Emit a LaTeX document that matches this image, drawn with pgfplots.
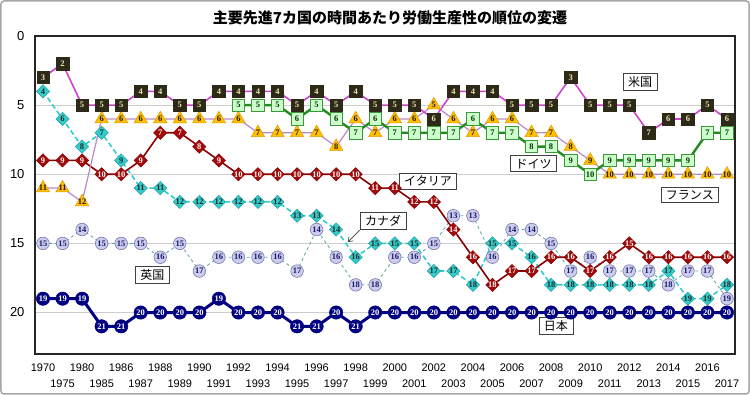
\documentclass[border=0pt]{standalone}
\usepackage{pgfplots}
\pgfplotsset{compat=1.18}
\usepackage{fontspec}
\setmainfont{Liberation Sans}
\newfontfamily\jp{Noto Sans CJK JP}
\newfontfamily\numf{Liberation Serif}
\usetikzlibrary{arrows.meta}
\definecolor{usfill}{HTML}{2E2A18}
\definecolor{usline}{HTML}{CC44CC}
\definecolor{ustext}{HTML}{EDE6B0}
\definecolor{defill}{HTML}{CCFFCC}
\definecolor{dedraw}{HTML}{3A9A3A}
\definecolor{deline}{HTML}{228B22}
\definecolor{frfill}{HTML}{FFC000}
\definecolor{frdraw}{HTML}{E09A00}
\definecolor{frline}{HTML}{BB88CC}
\definecolor{itfill}{HTML}{A00C0C}
\definecolor{itline}{HTML}{8B0000}
\definecolor{cafill}{HTML}{33CCCC}
\definecolor{cadraw}{HTML}{22A0A0}
\definecolor{caline}{HTML}{33CCCC}
\definecolor{ukfill}{HTML}{CCCCEE}
\definecolor{ukdraw}{HTML}{7777AA}
\definecolor{uktext}{HTML}{1A1A66}
\definecolor{ukline}{HTML}{66AAAA}
\definecolor{jpfill}{HTML}{000080}
\definecolor{jpline}{HTML}{000080}
\begin{document}
\begin{tikzpicture}
\useasboundingbox (-35pt,-41pt) rectangle (715pt,354pt);
\draw[gray!70, line width=1.5pt, rounded corners=3pt] (-34pt,-40pt) rectangle (714pt,353pt);
\begin{axis}[
  at={(0pt,0pt)}, anchor=south west,
  scale only axis, width=700pt, height=318pt,
  xmin=-0.41, xmax=35.41, ymin=0, ymax=23, y dir=reverse,
  axis line style={black!85, line width=1.2pt},
  ytick={0,5,10,15,20}, ymajorgrids, grid style={gray!40, line width=0.6pt},
  major tick length=0pt,
  xtick={0,2,...,34},
  xticklabels={1970,1980,1986,1988,1990,1992,1994,1996,1998,2000,2002,2004,2006,2008,2010,2012,2014,2016},
  extra x ticks={1,3,...,35},
  extra x tick labels={1975,1985,1987,1989,1991,1993,1995,1997,1999,2001,2003,2005,2007,2009,2011,2013,2015,2017},
  extra x tick style={xticklabel style={yshift=-16pt}, grid=none},
  xticklabel style={font=\fontsize{11}{13}\selectfont, yshift=-6pt},
  yticklabel style={font=\fontsize{13}{15}\selectfont, xshift=-7pt},
  /pgf/number format/assume math mode=true,
  clip=false,
  point meta=y,
  nodes near coords={\pgfmathprintnumber{\pgfplotspointmeta}},
  every node near coord/.append style={anchor=center, inner sep=0pt, font=\numf\bfseries\fontsize{8.5}{8.5}\selectfont},
]
% UK
\addplot[color=ukline, line width=0.9pt, dashed, mark=*, mark size=6.3pt,
  mark options={solid, fill=ukfill, draw=ukdraw, line width=0.6pt},
  every node near coord/.append style={text=uktext}] coordinates {
(0,15)(1,15)(2,14)(3,15)(4,15)(5,15)(6,16)(7,15)(8,17)(9,16)(10,16)(11,16)(12,16)(13,17)(14,14)(15,16)(16,18)(17,18)(18,16)(19,16)(20,15)(21,13)(22,13)(23,16)(24,14)(25,14)(26,15)(27,17)(28,16)(29,17)(30,17)(31,17)(32,18)(33,17)(34,17)(35,19)};
% Canada
\addplot[color=caline, line width=1.6pt, dash pattern=on 5pt off 3pt, mark=square*, mark size=4.7pt,
  mark options={solid, rotate=45, fill=cafill, draw=cadraw, line width=0.5pt},
  every node near coord/.append style={text=black!85}] coordinates {
(0,4)(1,6)(2,8)(3,7)(4,9)(5,11)(6,11)(7,12)(8,12)(9,12)(10,12)(11,12)(12,12)(13,13)(14,13)(15,14)(16,16)(17,15)(18,15)(19,15)(20,17)(21,17)(22,18)(23,15)(24,15)(25,16)(26,18)(27,18)(28,18)(29,18)(30,18)(31,18)(32,17)(33,19)(34,19)(35,18)};
% Italy
\addplot[color=itline, line width=1.6pt, mark=square*, mark size=4.7pt,
  mark options={solid, rotate=45, fill=itfill, draw=itline, line width=0.5pt},
  every node near coord/.append style={text=white!90!pink}] coordinates {
(0,9)(1,9)(2,9)(3,10)(4,10)(5,9)(6,7)(7,7)(8,8)(9,9)(10,10)(11,10)(12,10)(13,10)(14,10)(15,10)(16,10)(17,11)(18,11)(19,12)(20,12)(21,14)(22,16)(23,18)(24,17)(25,17)(26,16)(27,16)(28,17)(29,16)(30,15)(31,16)(32,16)(33,16)(34,16)(35,16)};
% France
\addplot[color=frline, line width=1.2pt, mark=triangle*, mark size=7.7pt,
  mark options={solid, fill=frfill, draw=frdraw, line width=0.5pt},
  every node near coord/.append style={text=black!80!brown}] coordinates {
(0,11)(1,11)(2,12)(3,6)(4,6)(5,6)(6,6)(7,6)(8,6)(9,6)(10,6)(11,7)(12,7)(13,7)(14,7)(15,8)(16,6)(17,7)(18,6)(19,6)(20,5)(21,6)(22,7)(23,6)(24,6)(25,7)(26,7)(27,8)(28,9)(29,10)(30,10)(31,10)(32,10)(33,10)(34,10)(35,10)};
% Germany
\addplot[color=deline, line width=2.4pt, mark=square*, mark size=6.2pt,
  mark options={solid, fill=defill, draw=dedraw, line width=0.7pt},
  every node near coord/.append style={text=black!80!green}] coordinates {
(10,5)(11,5)(12,5)(13,6)(14,5)(15,6)(16,7)(17,6)(18,7)(19,7)(20,7)(21,7)(22,6)(23,7)(24,7)(25,8)(26,8)(27,9)(28,10)(29,9)(30,9)(31,9)(32,9)(33,9)(34,7)(35,7)};
% USA
\addplot[color=usline, line width=1.6pt, mark=square*, mark size=6.2pt,
  mark options={solid, fill=usfill, draw=usfill, line width=0.5pt},
  every node near coord/.append style={text=ustext}] coordinates {
(0,3)(1,2)(2,5)(3,5)(4,5)(5,4)(6,4)(7,5)(8,5)(9,4)(10,4)(11,4)(12,4)(13,5)(14,4)(15,5)(16,4)(17,5)(18,5)(19,5)(20,6)(21,4)(22,4)(23,4)(24,5)(25,5)(26,5)(27,3)(28,5)(29,5)(30,5)(31,7)(32,6)(33,6)(34,5)(35,6)};
% Japan
\addplot[color=jpline, line width=3pt, mark=*, mark size=6.7pt,
  mark options={solid, fill=jpfill, draw=jpfill, line width=0.5pt},
  every node near coord/.append style={text=white}] coordinates {
(0,19)(1,19)(2,19)(3,21)(4,21)(5,20)(6,20)(7,20)(8,20)(9,19)(10,20)(11,20)(12,20)(13,21)(14,21)(15,20)(16,21)(17,20)(18,20)(19,20)(20,20)(21,20)(22,20)(23,20)(24,20)(25,20)(26,20)(27,20)(28,20)(29,20)(30,20)(31,20)(32,20)(33,20)(34,20)(35,20)};
% labels
\tikzset{lab/.style={draw=black!75, fill=white, line width=0.8pt, font=\jp\fontsize{12}{14}\selectfont, inner xsep=5pt, inner ysep=3pt}}
\node[lab] at (axis cs:30.55,3.32) {米国};
\node[lab] at (axis cs:25.1,9.24) {ドイツ};
\node[lab] at (axis cs:33.1,11.5) {フランス};
\node[lab] at (axis cs:19.7,10.5) {イタリア};
\node[lab] (ca) at (axis cs:17.4,13.4) {カナダ};
\draw[black!75, line width=0.7pt, -{Straight Barb[length=4pt,width=6pt]}] (ca.south west) -- (axis cs:15.6,14.9);
\node[lab] at (axis cs:5.6,17.3) {英国};
\node[lab] at (axis cs:26.25,21.0) {日本};
\end{axis}
\node[font=\jp\bfseries\fontsize{15}{17}\selectfont] at (355pt,336pt) {主要先進7カ国の時間あたり労働生産性の順位の変遷};
\end{tikzpicture}
\end{document}
